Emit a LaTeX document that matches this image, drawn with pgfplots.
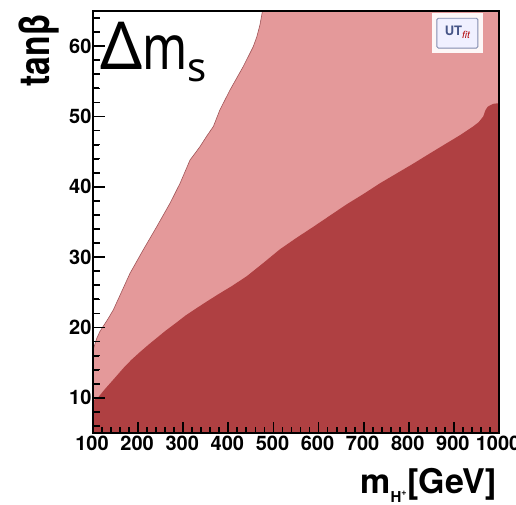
\documentclass[border=0pt]{standalone}
\usepackage{pgfplots}
\pgfplotsset{compat=1.18}
\usepackage{fontspec}
\setmainfont{TeX Gyre Heros}
\newfontfamily\comic{Noto Sans}
\definecolor{lightred}{RGB}{228,153,154}
\definecolor{darkred}{RGB}{175,64,66}
\definecolor{edgered}{RGB}{160,85,88}
\definecolor{utblue}{RGB}{70,85,135}
\definecolor{utborder}{RGB}{130,140,175}
\begin{document}
\begin{tikzpicture}
\begin{pgfinterruptboundingbox}
\begin{axis}[
  scale only axis, width=406pt, height=422pt,
  xmin=100, xmax=1000, ymin=5, ymax=65,
  axis on top=true,
  xtick={100,200,...,1000},
  minor xtick={120,140,...,980},
  ytick={10,20,...,60},
  minor ytick={6,8,...,64},
  tick align=inside,
  xtick pos=left, ytick pos=left,
  major tick length=11pt, minor tick length=6pt,
  tick style={black, line width=1.8pt},
  axis line style={black, line width=1.4pt},
  /pgf/number format/assume math mode=true,
  /pgf/number format/1000 sep={},
  tick label style={font=\fontsize{20}{20}\selectfont\bfseries},
  xticklabel style={yshift=1pt, xshift=-1pt},
  yticklabel style={xshift=2pt},
  xlabel={\fontsize{34}{34}\selectfont\bfseries m\raisebox{-0.28em}{\fontsize{15}{15}\selectfont H\raisebox{0.45em}{\fontsize{9}{9}\selectfont +}}\hspace{1pt}[GeV]},
  xlabel style={at={(rel axis cs:0.995,0)}, anchor=base east, yshift=-60pt, inner sep=0pt},
  ylabel={\fontsize{42}{42}\selectfont\bfseries\scalebox{0.8}[1]{tanβ}},
  ylabel style={at={(rel axis cs:0,1)}, anchor=base east, xshift=-2pt, yshift=43pt, inner sep=0pt},
]
% light (pink) region: below the upper boundary
\addplot[fill=lightred, draw=none] coordinates {
(100,16.8) (104,17.6) (108,18.4) (115,19.4) (123,20.2) (134,21.3) (145,22.5) (160,24.6) (182,27.7) (211,31.0)
(241,34.3) (271,37.7) (293,40.5) (315,43.8) (337,45.7) (352,47.2) (367,48.6) (381,50.9)
(404,53.8) (433,57.1) (455,59.9) (463,61.3) (470,63.0) (474,64.4) (477,65.5)
(1000,65.5) (1000,4) (100,4)
};
% dark region: below the lower boundary
\addplot[fill=darkred, draw=none] coordinates {
(100,9.6) (112,10.1) (122,10.9) (130,11.5) (148,12.8) (167,14.2) (185,15.4) (204,16.5) (222,17.5) (241,18.5)
(262,19.6) (285,20.7) (305,21.7) (326,22.6) (350,23.6)
(377,24.7) (408,25.9) (441,27.3) (478,29.2) (514,31.1) (550,32.7) (588,34.3) (625,35.9) (662,37.5) (700,39.0) (736,40.5) (773,41.9) (810,43.3)
(848,44.8) (884,46.2) (915,47.4) (943,48.6) (955,49.2) (965,50.0) (970,50.9) (975,51.4) (987,51.8) (1000,51.9)
(1000,4) (100,4)
};
% edge of the light region
\addplot[draw=edgered, line width=0.6pt] coordinates {
(100,16.8) (104,17.6) (108,18.4) (115,19.4) (123,20.2) (134,21.3) (145,22.5) (160,24.6) (182,27.7) (211,31.0)
(241,34.3) (271,37.7) (293,40.5) (315,43.8) (337,45.7) (352,47.2) (367,48.6) (381,50.9)
(404,53.8) (433,57.1) (455,59.9) (463,61.3) (470,63.0) (474,64.4) (477,65.5)
};
% tick marks (inside, on left and bottom)
\pgfplotsinvokeforeach{200,300,...,900}{\draw[black, line width=1.8pt] (axis cs:#1,5) -- ++(0pt,10pt);}
\pgfplotsinvokeforeach{120,140,...,980}{\draw[black, line width=1.6pt] (axis cs:#1,5) -- ++(0pt,5pt);}
\pgfplotsinvokeforeach{10,20,...,60}{\draw[black, line width=1.8pt] (axis cs:100,#1) -- ++(12pt,0pt);}
\pgfplotsinvokeforeach{6,8,...,64}{\draw[black, line width=1.6pt] (axis cs:100,#1) -- ++(7pt,0pt);}
% Delta m_s label
\node[anchor=base west, inner sep=0pt] at (rel axis cs:0.017,0.862)
  {\comic{\fontsize{66}{66}\selectfont Δ}{\fontsize{62}{62}\selectfont\scalebox{0.78}[1]{m}}\raisebox{-12pt}{\fontsize{40}{40}\selectfont s}};
% UTfit logo
\fill[white!92!lightred] (rel axis cs:0.835,0.995) rectangle (rel axis cs:0.960,0.900);
\draw[utborder, line width=0.8pt, rounded corners=1.5pt, fill=white!94!blue] (rel axis cs:0.847,0.983) rectangle (rel axis cs:0.948,0.912);
\node[inner sep=0pt, anchor=center] at (rel axis cs:0.8975,0.950)
  {\fontsize{13}{13}\selectfont\bfseries\color{utblue}UT\raisebox{-3pt}{\fontsize{10}{10}\selectfont\mdseries\itshape\color{red!70!black}fit}};
\end{axis}
\end{pgfinterruptboundingbox}
\path (-93pt,-72pt) rectangle (423pt,433pt);
\end{tikzpicture}
\end{document}
